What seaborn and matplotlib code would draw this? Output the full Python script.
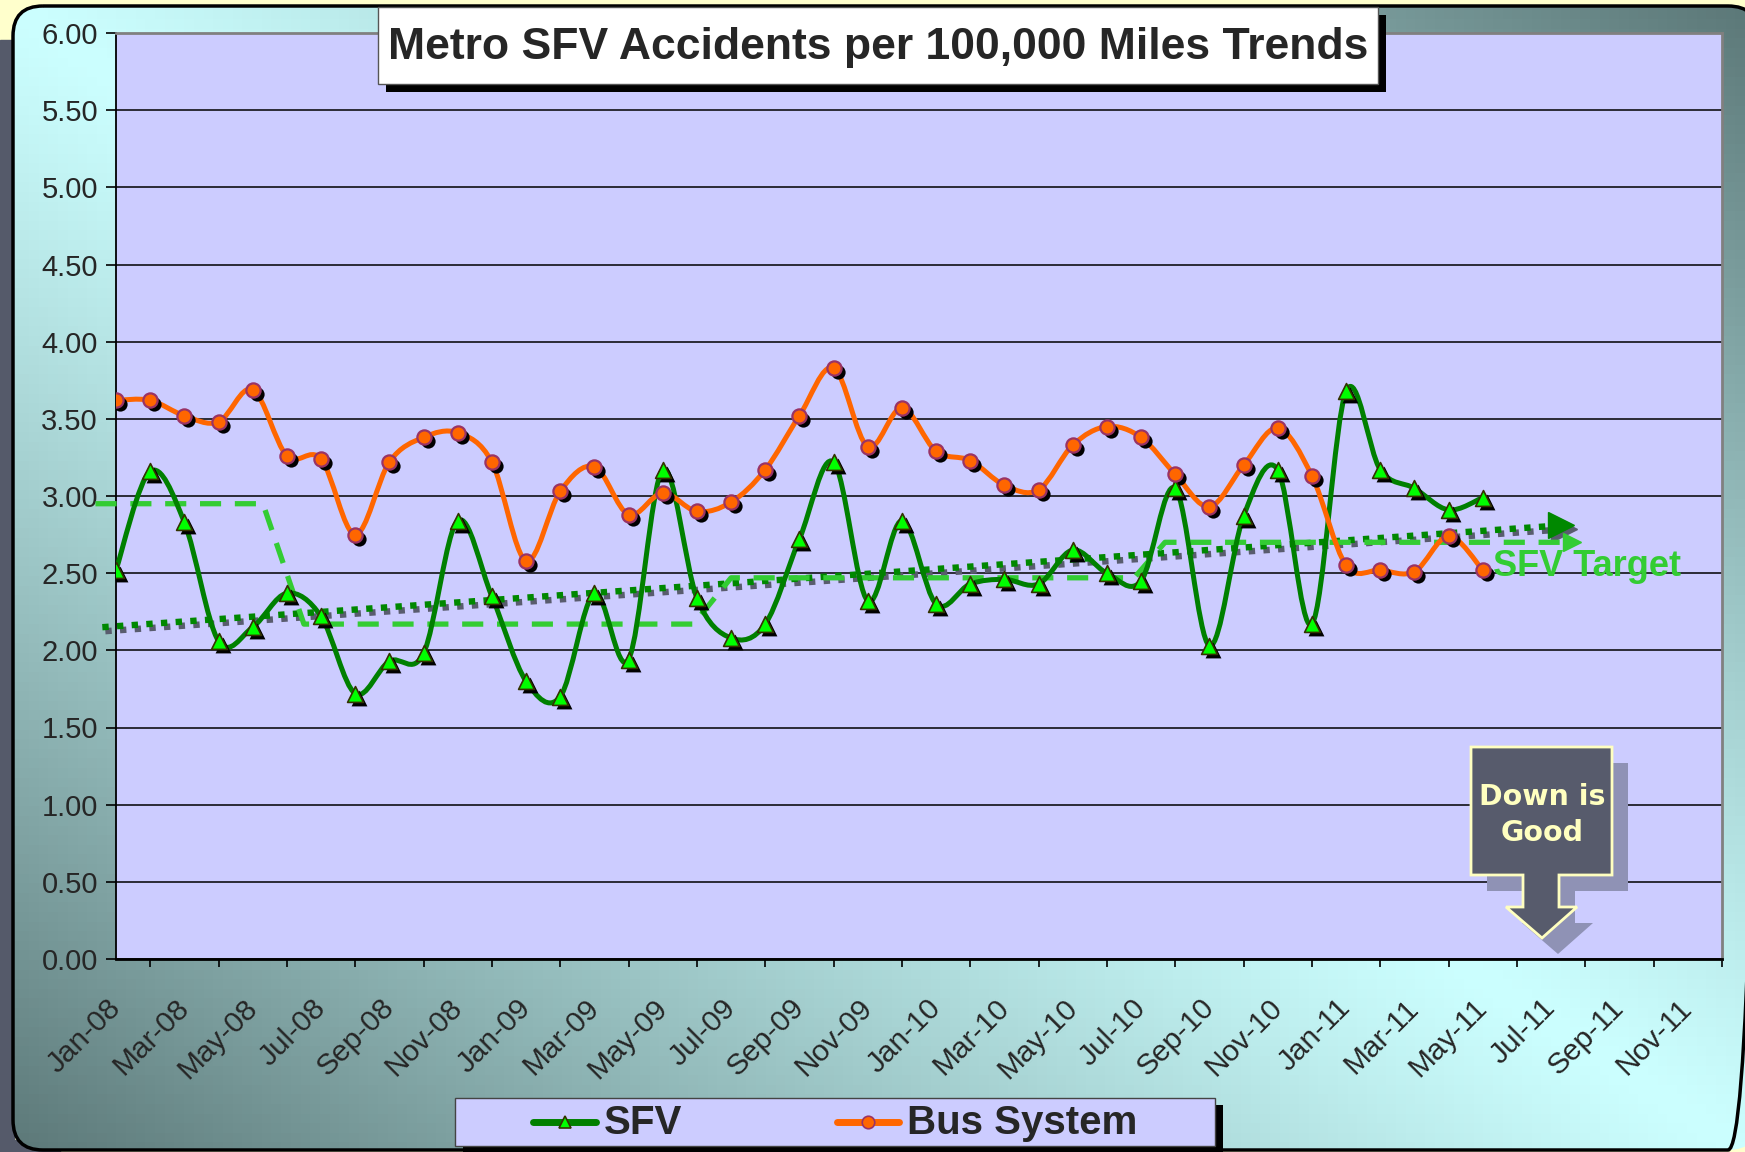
import numpy as np
import pandas as pd
import seaborn as sns
import matplotlib
matplotlib.use("Agg")
import matplotlib.pyplot as plt
import matplotlib.transforms as mtransforms
from matplotlib.path import Path
from matplotlib.patches import PathPatch, FancyBboxPatch, Rectangle, Polygon
from matplotlib.lines import Line2D

W, H = 1745, 1152

# months on the axis (Jan-08 .. Dec-11), data runs Jan-08 .. May-11
months = pd.date_range("2008-01-01", "2011-12-01", freq="MS")
month_labels = [d.strftime("%b-%y") for d in months]

sfv = [2.52, 3.16, 2.83, 2.06, 2.15, 2.37, 2.22, 1.72, 1.93, 1.98,
       2.84, 2.35, 1.80, 1.70, 2.37, 1.94, 3.17, 2.34, 2.08, 2.17,
       2.72, 3.22, 2.32, 2.84, 2.30, 2.43, 2.46, 2.43, 2.65, 2.50,
       2.45, 3.05, 2.03, 2.87, 3.17, 2.17, 3.68, 3.17, 3.05, 2.91,
       2.99]
bus = [3.62, 3.62, 3.52, 3.48, 3.69, 3.26, 3.24, 2.75, 3.22, 3.38,
       3.41, 3.22, 2.58, 3.03, 3.19, 2.88, 3.02, 2.90, 2.96, 3.17,
       3.52, 3.83, 3.32, 3.57, 3.29, 3.23, 3.07, 3.04, 3.33, 3.45,
       3.38, 3.14, 2.93, 3.20, 3.44, 3.13, 2.55, 2.52, 2.51, 2.74,
       2.52]

# SFV trend (start / end, month index)
trend_x = [-0.4, 42.3]
trend_y = [2.15, 2.81]

# SFV target by fiscal year (month index breakpoints)
target_x = [-0.6, 4.3, 5.5, 16.9, 18.0, 29.8, 30.7, 42.6]
target_y = [2.95, 2.95, 2.17, 2.17, 2.47, 2.47, 2.70, 2.70]

df = pd.DataFrame({"idx": np.arange(len(sfv)), "SFV": sfv, "Bus System": bus})

LAV = "#CCCCFF"
GREEN = "#008000"
ORANGE = "#FF6600"
TGREEN = "#33CC33"


def fx(x):
    return x / W


def fy(y):
    return 1 - y / H


def smooth_path(x, y):
    # excel style smoothed line (catmull-rom bezier)
    pts = np.column_stack([x, y]).astype(float)
    n = len(pts)
    verts = [pts[0]]
    codes = [Path.MOVETO]
    for i in range(n - 1):
        p0 = pts[i - 1] if i > 0 else pts[i]
        p1 = pts[i]
        p2 = pts[i + 1]
        p3 = pts[i + 2] if i + 2 < n else pts[i + 1]
        verts += [p1 + (p2 - p0) / 6, p2 - (p3 - p1) / 6, p2]
        codes += [Path.CURVE4] * 3
    return Path(verts, codes)


sns.set_theme(style="white")
plt.rcParams["font.family"] = ["Liberation Sans", "DejaVu Sans"]

fig = plt.figure(figsize=(W / 100, H / 100), dpi=100)
fig.patch.set_facecolor("#FFFFCC")

# background frame with gradient
bg = fig.add_axes([0, 0, 1, 1], zorder=-10)
bg.set_xlim(0, W)
bg.set_ylim(H, 0)
bg.axis("off")
bg.add_patch(Rectangle((0, 40), 14, H - 40, color="#555A6A", zorder=0))
bg.add_patch(Rectangle((0, 1140), 60, 20, color="#555A6A", zorder=0))
gy, gx = np.mgrid[0:1:120j, 0:1:180j]
t = np.clip(np.abs(gx - gy), 0, 1) ** 1.15
light = np.array([0.80, 1.0, 1.0])
dark = np.array([0.36, 0.47, 0.47])
img = light * (1 - t[..., None]) + dark * t[..., None]
frame = FancyBboxPatch((13, 6), 1758 - 13, 1150 - 6,
                       boxstyle="round,pad=0,rounding_size=30",
                       facecolor="none", edgecolor="black", lw=2.5, zorder=3)
bg.add_patch(frame)
im = bg.imshow(img, extent=(0, W, H, 0), aspect="auto", zorder=1)
im.set_clip_path(frame)

# main axes
ax = fig.add_axes([fx(116), fy(959), fx(1722) - fx(116), fy(33) - fy(959)])
ax.set_facecolor(LAV)
ax.set_xlim(0, 47)
ax.set_ylim(0, 6)

ax.set_yticks(np.arange(0, 6.01, 0.5))
ax.set_yticklabels([f"{v:.2f}" for v in np.arange(0, 6.01, 0.5)], fontsize=21)
ax.grid(axis="y", color="black", lw=1.1)
ax.grid(axis="x", visible=False)
ax.set_axisbelow(True)

ax.set_xticks(range(0, 47, 2))
ax.set_xticks(range(0, 48), minor=True)
ax.set_xticklabels(month_labels[0:47:2], rotation=45, ha="right",
                   rotation_mode="anchor", va="center", fontsize=21.5)
ax.tick_params(axis="x", which="major", direction="inout", length=14,
               width=1.2, color="black", pad=25)
ax.tick_params(axis="x", which="minor", direction="out", length=6,
               width=1.2, color="black", bottom=True)
ax.tick_params(axis="y", direction="out", length=7, width=1.2,
               color="black", left=True, pad=6)
for s in ["top", "right"]:
    ax.spines[s].set_color("#808080")
    ax.spines[s].set_linewidth(2)
ax.spines["left"].set_color("black")
ax.spines["left"].set_linewidth(1.3)
ax.spines["bottom"].set_color("black")
ax.spines["bottom"].set_linewidth(2)

# trend line for SFV with grey shadow
shadow_tr = mtransforms.offset_copy(ax.transData, fig=fig, x=3, y=-4, units="dots")
ax.plot(trend_x, trend_y, color="#595C6E", lw=4.6, linestyle=(0, (1, 1.3)),
        dash_capstyle="butt", transform=shadow_tr, zorder=2.4, clip_on=False)
ax.plot(trend_x[-1], trend_y[-1], marker=">", ms=19, color="#595C6E",
        transform=shadow_tr, zorder=2.4, clip_on=False)
ax.plot(trend_x, trend_y, color="#008800", lw=4.6, linestyle=(0, (1, 1.3)),
        dash_capstyle="butt", zorder=2.5, clip_on=False)
ax.plot(trend_x[-1], trend_y[-1], marker=">", ms=19, color="#008800", zorder=2.5,
        clip_on=False)

# target dashed line
ax.plot(target_x, target_y, color=TGREEN, lw=3.8, linestyle=(0, (4, 2.6)),
        zorder=2.6, clip_on=False)
ax.plot(target_x[-1], target_y[-1], marker=">", ms=13, color=TGREEN, zorder=2.6,
        clip_on=False)
ax.text(40.3, 2.54, "SFV Target", color=TGREEN, fontsize=26, fontweight="bold",
        ha="left", va="center", zorder=6)

# smoothed series lines
for col, c in [("SFV", GREEN), ("Bus System", ORANGE)]:
    ax.add_patch(PathPatch(smooth_path(df["idx"], df[col]), fill=False,
                           edgecolor=c, lw=3.6, capstyle="round",
                           joinstyle="round", zorder=3))

# marker shadows and markers
mk_shadow = mtransforms.offset_copy(ax.transData, fig=fig, x=4, y=-4, units="dots")
ax.scatter(df["idx"], df["SFV"], marker="^", s=130, color="black",
           transform=mk_shadow, zorder=3.5, linewidths=0)
ax.scatter(df["idx"], df["Bus System"], marker="o", s=105, color="black",
           transform=mk_shadow, zorder=3.5, linewidths=0)
sns.scatterplot(data=df, x="idx", y="SFV", marker="^", s=130, color="#00FF00",
                edgecolor="#333300", linewidth=1.2, ax=ax, zorder=4)
sns.scatterplot(data=df, x="idx", y="Bus System", marker="o", s=105, color=ORANGE,
                edgecolor="#993366", linewidth=1.6, ax=ax, zorder=4)
ax.set_xlabel("")
ax.set_ylabel("")

# "Down is Good" arrow callout
arrow_px = [(1471, 747), (1612, 747), (1612, 875), (1559, 875), (1559, 907),
            (1577, 907), (1542, 938), (1506, 907), (1523, 907), (1523, 875),
            (1471, 875)]
fig.patches.append(Polygon([(fx(x + 16), fy(y + 16)) for x, y in arrow_px],
                           closed=True, transform=fig.transFigure,
                           facecolor="#8F92B5", edgecolor="none", zorder=5))
fig.patches.append(Polygon([(fx(x), fy(y)) for x, y in arrow_px], closed=True,
                           transform=fig.transFigure, facecolor="#575B6C",
                           edgecolor="#FFFFC0", lw=2, zorder=6))
fig.text(fx(1542), fy(815), "Down is\nGood", color="#FFFFC0", fontsize=20.5,
         fontweight="bold", family=["DejaVu Sans"], ha="center", va="center",
         linespacing=1.4, zorder=7)

# title box with black shadow
fig.patches.append(Rectangle((fx(386), fy(92)), fx(1000), fy(0) - fy(77),
                             transform=fig.transFigure, facecolor="black",
                             edgecolor="none", zorder=5))
fig.patches.append(Rectangle((fx(378), fy(84)), fx(1000), fy(0) - fy(77),
                             transform=fig.transFigure, facecolor="white",
                             edgecolor="#555555", lw=1, zorder=6))
fig.text(fx(878), fy(48), "Metro SFV Accidents per 100,000 Miles Trends",
         fontsize=32, fontweight="bold", ha="center", va="center", zorder=7)

# legend box
fig.patches.append(Rectangle((fx(463), fy(1153)), fx(760), fy(0) - fy(48),
                             transform=fig.transFigure, facecolor="black",
                             edgecolor="none", zorder=5))
fig.patches.append(Rectangle((fx(455), fy(1146)), fx(760), fy(0) - fy(48),
                             transform=fig.transFigure, facecolor=LAV,
                             edgecolor="#444444", lw=1, zorder=6))
for x0, x1, c, m, mfc, mec, lab in [
        (533, 596, GREEN, "^", "#00FF00", "#333300", "SFV"),
        (837, 899, ORANGE, "o", ORANGE, "#993366", "Bus System")]:
    fig.lines.append(Line2D([fx(x0), fx(x1)], [fy(1122), fy(1122)],
                            transform=fig.transFigure, color=c, lw=5,
                            solid_capstyle="round", zorder=7))
    fig.lines.append(Line2D([fx((x0 + x1) / 2)], [fy(1122)],
                            transform=fig.transFigure, marker=m, ms=9,
                            mfc=mfc, mec=mec, mew=1.2, zorder=8))
    fig.text(fx(x1 + 8), fy(1123), lab, fontsize=29, fontweight="bold",
             ha="left", va="center", zorder=8)

fig.savefig("out.png", dpi=100, facecolor=fig.get_facecolor())
